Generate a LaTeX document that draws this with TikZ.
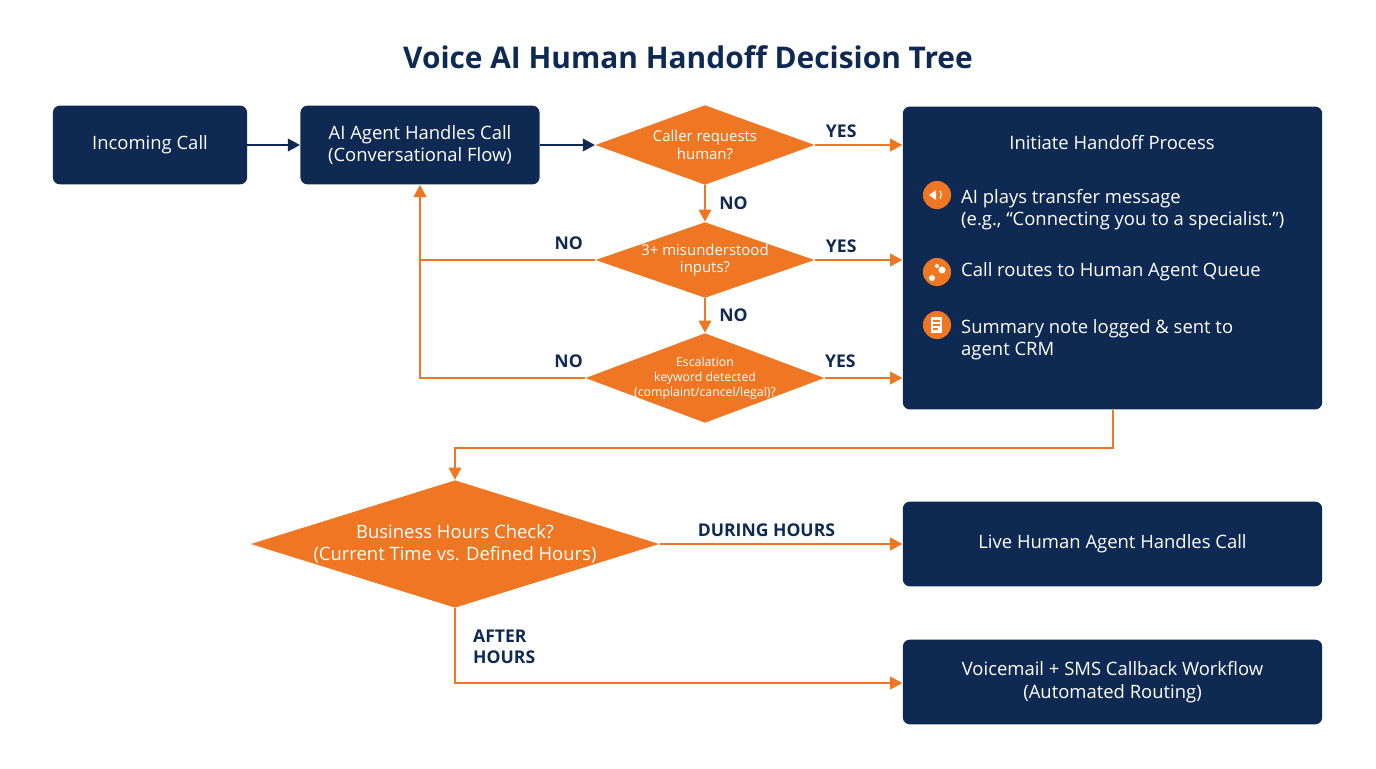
\documentclass[tikz,border=0pt]{standalone}
\usepackage{fontspec}
\setmainfont{Open Sans}
\usetikzlibrary{arrows.meta,shapes.geometric}
\definecolor{navy}{HTML}{0E2A52}
\definecolor{org}{HTML}{EF7622}
\begin{document}
\begin{tikzpicture}[x=0.02cm,y=-0.02cm,
 box/.style={fill=navy,rounded corners=4pt,text=white,align=center,font=\fontsize{10.5}{13}\selectfont},
 dia/.style={diamond,fill=org,text=white,align=center,inner sep=-3pt},
 oa/.style={draw=org,line width=1.6pt,-{Triangle[length=7pt,width=7pt]}},
 ol/.style={draw=org,line width=1.6pt},
 na/.style={draw=navy,line width=1.6pt,-{Triangle[length=7pt,width=7pt]}},
 lab/.style={text=navy,font=\bfseries\fontsize{10}{12}\selectfont},
 ic/.style={circle,fill=org,minimum size=16pt,inner sep=0pt}]
\useasboundingbox[fill=white] (0,0) rectangle (1376,768);
\node[text=navy,font=\bfseries\fontsize{17}{20}\selectfont] (t) at (688,57) {Voice AI Human Handoff Decision Tree};
\node[box,minimum width=195*0.567pt,minimum height=79*0.567pt] (inc) at (150,145) {Incoming Call};
\node[box,minimum width=240*0.567pt,minimum height=79*0.567pt] (ai) at (420,145) {AI Agent Handles Call\\(Conversational Flow)};
\node[dia,aspect=2.75,minimum width=220*0.567pt,minimum height=80*0.567pt,font=\fontsize{8.5}{10}\selectfont] (d1) at (705,145) {Caller requests\\human?};
\node[dia,aspect=2.9,minimum width=220*0.567pt,minimum height=76*0.567pt,font=\fontsize{8.5}{10}\selectfont] (d2) at (705,260) {3+ misunderstood\\inputs?};
\node[dia,aspect=2.67,minimum width=240*0.567pt,minimum height=90*0.567pt,font=\fontsize{7}{8.5}\selectfont] (d3) at (705,378) {Escalation\\keyword detected\\(complaint/cancel/legal)?};
\node[box,minimum width=421*0.567pt,minimum height=304*0.567pt] (ini) at (1112.5,258) {};
\node[text=white,font=\fontsize{10.5}{13}\selectfont] (it) at (1112,143) {Initiate Handoff Process};
\node[ic] (i1) at (937,195) {};
\node[ic] (i2) at (937,272) {};
\node[ic] (i3) at (937,325) {};
\fill[white] (929,195) -- (936,190) -- (936,200) -- cycle;
\draw[white,line width=0.6pt] (940,191) arc (140:220:-6);
\fill[white] (932,278) circle (3) (942,270) circle (3.5) (937,266) circle (2);
\fill[white] (931,317) rectangle (942,333);
\draw[org,line width=0.6pt] (933,321) -- (940,321) (933,325) -- (940,325) (933,329) -- (938,329);
\node[anchor=north west,text=white,align=left,font=\fontsize{10.5}{12.5}\selectfont] (t1) at (955,183) {AI plays transfer message\\(e.g., “Connecting you to a specialist.”)};
\node[anchor=west,text=white,font=\fontsize{10.5}{12.5}\selectfont] (t2) at (955,272) {Call routes to Human Agent Queue};
\node[anchor=north west,text=white,align=left,font=\fontsize{10.5}{12.5}\selectfont] (t3) at (955,313) {Summary note logged \& sent to\\agent CRM};
\node[dia,aspect=3.2,inner sep=-6pt,minimum width=410*0.567pt,minimum height=128*0.567pt,font=\fontsize{10.5}{13}\selectfont] (bh) at (455,544) {Business Hours Check?\\(Current Time vs. Defined Hours)};
\node[box,minimum width=421*0.567pt,minimum height=85*0.567pt] (live) at (1112.5,544) {Live Human Agent Handles Call};
\node[box,minimum width=421*0.567pt,minimum height=85*0.567pt] (vm) at (1112.5,682) {Voicemail + SMS Callback Workflow\\(Automated Routing)};
\draw[na] (inc) -- (ai);
\draw[na] (ai) -- (d1);
\draw[oa] (d1.east) -- (ini.west|-d1.east) node[lab,pos=0.3,above] {YES};
\draw[oa] (d1.south) -- (d2.north) node[lab,midway,right,xshift=4pt] {NO};
\draw[oa] (d2.south) -- (d3.north) node[lab,midway,right,xshift=4pt] {NO};
\draw[oa] (d2.east) -- (ini.west|-d2.east) node[lab,pos=0.3,above] {YES};
\draw[oa] (d3.east) -- (ini.west|-d3.east) node[lab,pos=0.2,above,yshift=2pt] {YES};
\coordinate (c2) at (420,260);
\coordinate (c3) at (420,378);
\draw[ol] (d2.west) -- (c2) node[lab,pos=0.15,above,yshift=2pt] {NO};
\draw[oa] (d3.west) -- (c3) node[lab,pos=0.1,above,yshift=2pt] {NO} -- (ai.south);
\coordinate (k1) at (1113,448);
\coordinate (k2) at (455,448);
\draw[oa] (ini.south-|k1) -- (k1) -- (k2) -- (bh.north);
\draw[oa] (bh.east) -- (live.west) node[lab,pos=0.44,above] {DURING HOURS};
\coordinate (k3) at (455,683);
\draw[oa] (bh.south) -- (k3) -- (vm.west|-k3);
\node[lab,anchor=north west,align=left] (ah) at (467,624) {AFTER\\HOURS};
\end{tikzpicture}
\end{document}
